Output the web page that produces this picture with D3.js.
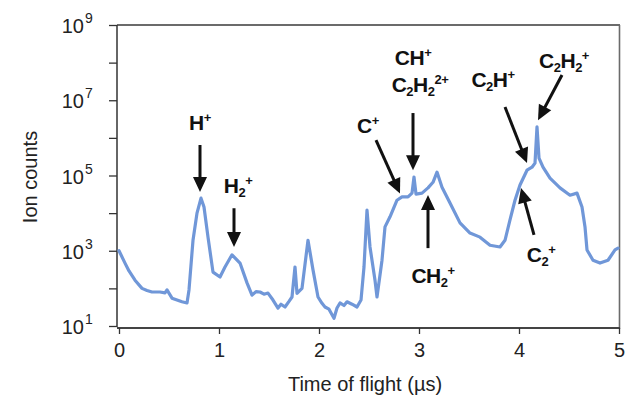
<!DOCTYPE html>
<html>
<head>
<meta charset="utf-8">
<script src="https://cdn.jsdelivr.net/npm/d3@7"></script>
<style>
  body { margin: 0; background: #fff; }
  text { font-family: "Liberation Sans", Arial, sans-serif; }
</style>
</head>
<body>
<div id="chart"></div>
<script>
// time of flight (µs)
const times = [0.00, 0.06, 0.10, 0.16, 0.23, 0.28, 0.33, 0.41, 0.46, 0.48, 0.53, 0.63, 0.68, 0.70, 0.74, 0.78, 0.82, 0.85, 0.89, 0.94,
  1.01, 1.06, 1.13, 1.21, 1.28, 1.33, 1.37, 1.41, 1.45, 1.49, 1.54, 1.59, 1.62, 1.66, 1.70, 1.73, 1.76, 1.78, 1.83, 1.89, 1.94, 1.99,
  2.03, 2.06, 2.10, 2.15, 2.18, 2.21, 2.25, 2.28, 2.33, 2.38, 2.42, 2.45, 2.48, 2.51, 2.56, 2.58, 2.63, 2.66, 2.71, 2.78, 2.83, 2.89, 2.93, 2.95, 2.97,
  3.03, 3.09, 3.14, 3.18, 3.23, 3.31, 3.41, 3.51, 3.61, 3.71, 3.81, 3.86, 3.91, 3.96,
  4.01, 4.08, 4.13, 4.16, 4.18, 4.20, 4.24, 4.31, 4.41, 4.51, 4.58, 4.63, 4.66, 4.68, 4.74, 4.81, 4.89, 4.96, 4.99];
// ion counts
const counts = [1000, 470, 290, 165, 100, 88, 80, 80, 76, 91, 55, 44, 41, 91, 1900, 10000, 25000, 14500, 2300, 270,
  200, 370, 780, 470, 140, 66, 82, 80, 70, 75, 49, 30, 38, 32, 45, 59, 370, 74, 100, 1900, 310, 59,
  40, 32, 28, 16, 30, 41, 35, 44, 38, 32, 49, 370, 12000, 1260, 165, 59, 560, 4300, 8000, 22000, 27000, 27000, 34000, 91000, 32000,
  34000, 47000, 66000, 123000, 49000, 18600, 5500, 2950, 2300, 1400, 1260, 1900, 6600, 22000,
  56000, 138000, 166000, 214000, 1950000, 290000, 166000, 85000, 47000, 30000, 34000, 14500, 4300, 1050, 560, 470, 560, 1050, 1170];

const xTicks = [0, 1, 2, 3, 4, 5];
const yTicks = [1e1, 1e2, 1e3, 1e4, 1e5, 1e6, 1e7, 1e8, 1e9];
const yLabelExp = [1, 3, 5, 7, 9];

// peak labels: text parts [string, "n"|"sub"|"sup"], label anchor and arrow (data coords)
const peaks = [
  { parts: [["H","n"],["+","sup"]], lx: 0.81, ly: 10**6.21, from: [0.81, 10**5.81], to: [0.81, 10**4.56] },
  { parts: [["H","n"],["2","sub"],["+","sup"]], lx: 1.19, ly: 10**4.53, from: [1.15, 10**4.13], to: [1.15, 10**3.10] },
  { parts: [["C","n"],["+","sup"]], lx: 2.49, ly: 10**6.13, from: [2.57, 10**5.94], to: [2.81, 10**4.52] },
  { parts: [["CH","n"],["+","sup"]], lx: 2.94, ly: 10**7.93, from: null, to: null },
  { parts: [["C","n"],["2","sub"],["H","n"],["2","sub"],["2+","sup"]], lx: 3.01, ly: 10**7.22, from: [2.94, 10**6.66], to: [2.94, 10**5.14] },
  { parts: [["C","n"],["2","sub"],["H","n"],["+","sup"]], lx: 3.74, ly: 10**7.35, from: [3.86, 10**6.82], to: [4.08, 10**5.33] },
  { parts: [["C","n"],["2","sub"],["H","n"],["2","sub"],["+","sup"]], lx: 4.45, ly: 10**7.85, from: [4.43, 10**7.67], to: [4.19, 10**6.47] },
  { parts: [["CH","n"],["2","sub"],["+","sup"]], lx: 3.14, ly: 10**2.14, from: [3.09, 10**3.07], to: [3.09, 10**4.48] },
  { parts: [["C","n"],["2","sub"],["+","sup"]], lx: 4.22, ly: 10**2.70, from: [4.15, 10**3.42], to: [4.02, 10**4.67] }
];

const W = 626, H = 401;
const svg = d3.select("#chart").append("svg").attr("width", W).attr("height", H);

const x = d3.scaleLinear().domain([0, 5]).range([119, 619]);
const y = d3.scaleLog().domain([1e1, 1e9]).range([326, 25]);

// frame (top, right)
svg.append("line").attr("x1", 117).attr("x2", 620).attr("y1", 25).attr("y2", 25)
  .attr("stroke", "#6b6b6b").attr("stroke-width", 2);
svg.append("line").attr("x1", 619.5).attr("x2", 619.5).attr("y1", 25).attr("y2", 329)
  .attr("stroke", "#6b6b6b").attr("stroke-width", 1.6);

// y axis
const yAxis = svg.append("g").attr("transform", "translate(117,0)")
  .call(d3.axisLeft(y).tickValues(yTicks).tickSize(8).tickFormat(""));
yAxis.select(".domain").attr("d", "M0,25V327").attr("stroke", "#333").attr("stroke-width", 1.5);
yAxis.selectAll(".tick line").attr("stroke", "#333").attr("stroke-width", 1.3);

yLabelExp.forEach(e => {
  svg.append("text").attr("x", 84).attr("y", y(10 ** e) + 8)
    .attr("text-anchor", "end").attr("font-size", 20).attr("fill", "#222").text("10");
  svg.append("text").attr("x", 85).attr("y", y(10 ** e) - 2)
    .attr("font-size", 14).attr("fill", "#222").text(e);
});

// x axis
const xAxis = svg.append("g").attr("transform", "translate(0,328)")
  .call(d3.axisBottom(x).tickValues(xTicks).tickSize(6).tickPadding(9).tickFormat(d3.format("d")));
xAxis.select(".domain").attr("d", "M117,0H620").attr("stroke", "#444").attr("stroke-width", 2);
xAxis.selectAll(".tick line").attr("stroke", "#333").attr("stroke-width", 1.3);
xAxis.selectAll(".tick text").attr("font-size", 20).attr("fill", "#222")
  .attr("font-family", "'Liberation Sans', Arial, sans-serif");

// axis titles
svg.append("text").attr("transform", "translate(37,177) rotate(-90)")
  .attr("text-anchor", "middle").attr("font-size", 20).attr("fill", "#222").text("Ion counts");
svg.append("text").attr("x", 365).attr("y", 391)
  .attr("text-anchor", "middle").attr("font-size", 20).attr("fill", "#222").text("Time of flight (µs)");

// spectrum
const line = d3.line().x((d, i) => x(times[i])).y(d => y(d));
svg.append("path").datum(counts).attr("d", line)
  .attr("fill", "none").attr("stroke", "#7097d8").attr("stroke-width", 3.2)
  .attr("stroke-linejoin", "round").attr("stroke-linecap", "round");

// peak annotations
const ann = svg.append("g");
peaks.forEach(p => {
  const t = ann.append("text").attr("x", x(p.lx)).attr("y", y(p.ly))
    .attr("text-anchor", "middle").attr("font-size", 21).attr("font-weight", "bold").attr("fill", "#111")
    .attr("letter-spacing", -0.5);
  let shift = 0;
  p.parts.forEach(([s, k]) => {
    const dy = k === "sub" ? 4 : k === "sup" ? -8 : 0;
    t.append("tspan").attr("dy", dy - shift).attr("font-size", k === "n" ? 21 : 13).text(s);
    shift = dy;
  });
  if (p.from) {
    const x1 = x(p.from[0]), y1 = y(p.from[1]), x2 = x(p.to[0]), y2 = y(p.to[1]);
    const len = Math.hypot(x2 - x1, y2 - y1), ux = (x2 - x1) / len, uy = (y2 - y1) / len;
    const hl = 15, hw = 7;
    const bx = x2 - ux * hl, by = y2 - uy * hl;
    ann.append("line").attr("x1", x1).attr("y1", y1).attr("x2", bx + ux * 2).attr("y2", by + uy * 2)
      .attr("stroke", "#111").attr("stroke-width", 3);
    ann.append("path")
      .attr("d", `M${x2},${y2}L${bx - uy * hw},${by + ux * hw}L${bx + uy * hw},${by - ux * hw}Z`)
      .attr("fill", "#111");
  }
});
</script>
</body>
</html>
